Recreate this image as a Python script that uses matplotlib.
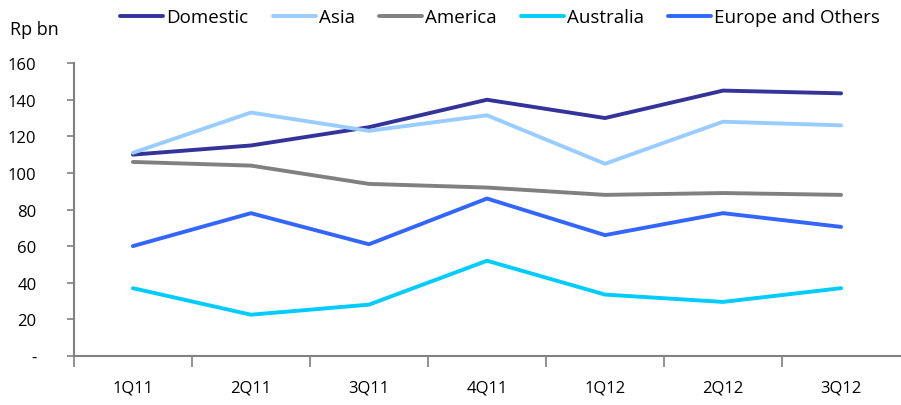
import matplotlib.pyplot as plt
from matplotlib.ticker import FixedLocator, FuncFormatter

# Data (Rp bn)
quarters = ["1Q11", "2Q11", "3Q11", "4Q11", "1Q12", "2Q12", "3Q12"]
domestic = [110, 115, 125, 140, 130, 145, 143.5]
asia = [111, 133, 123, 131.5, 105, 128, 126]
america = [106, 104, 94, 92, 88, 89, 88]
australia = [37, 22.5, 28, 52, 33.5, 29.5, 37]
europe = [60, 78, 61, 86, 66, 78, 70.5]

series = [
    ("Domestic", domestic, "#333399"),
    ("Asia", asia, "#99CCFF"),
    ("America", america, "#808080"),
    ("Australia", australia, "#00CCFF"),
    ("Europe and Others", europe, "#3366FF"),
]

plt.rcParams["font.family"] = ["Open Sans", "DejaVu Sans"]

fig = plt.figure(figsize=(9.01, 4.06), dpi=100)
ax = fig.add_axes([0.082, 0.121, 0.917, 0.721])

x = list(range(len(quarters)))
for name, vals, color in series:
    ax.plot(x, vals, color=color, linewidth=2.8, label=name, solid_capstyle="round")

ax.set_xlim(-0.5, len(quarters) - 0.5)
ax.set_ylim(0, 160)
ax.set_yticks(range(0, 161, 20))
ax.yaxis.set_major_formatter(FuncFormatter(lambda v, p: "-" if v == 0 else f"{v:.0f}"))

# ticks at category boundaries, labels at centres
ax.xaxis.set_major_locator(FixedLocator([i - 0.5 for i in range(len(quarters))]))
ax.xaxis.set_major_formatter(FuncFormatter(lambda v, p: ""))
ax.xaxis.set_minor_locator(FixedLocator(x))
ax.set_xticklabels(quarters, minor=True)
ax.tick_params(axis="x", which="minor", length=0, pad=17, labelsize=12)
ax.tick_params(axis="x", which="major", length=8, color="#808080", width=1.2)
ax.tick_params(axis="y", length=5, color="#808080", width=1.2, labelsize=12, pad=22)
for lbl in ax.get_yticklabels():
    lbl.set_horizontalalignment("right")

for s in ["top", "right"]:
    ax.spines[s].set_visible(False)
for s in ["left", "bottom"]:
    ax.spines[s].set_color("#808080")
    ax.spines[s].set_linewidth(1.5)

fig.text(0.011, 0.925, "Rp bn", fontsize=13, va="center")
fig.legend(loc="center", bbox_to_anchor=(0.555, 0.955), ncol=5, frameon=False,
           fontsize=13.5, handlelength=2.3, handletextpad=0.15, columnspacing=1.3,
           borderaxespad=0, borderpad=0)

fig.savefig("out.png", dpi=100)
